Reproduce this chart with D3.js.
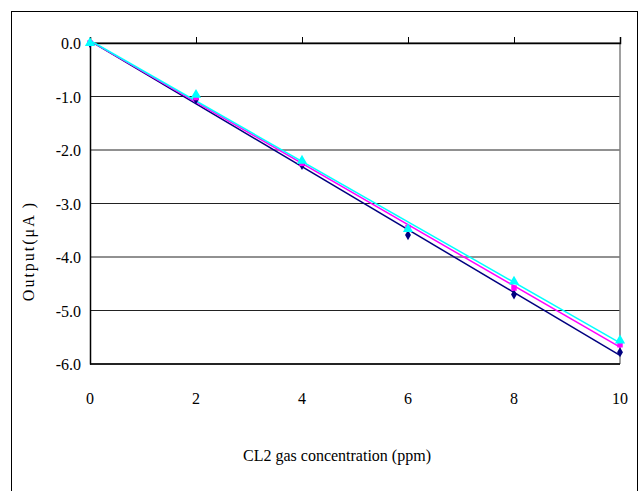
<!DOCTYPE html>
<html>
<head>
<meta charset="utf-8">
<script src="https://cdn.jsdelivr.net/npm/d3@7"></script>
<style>
body { margin: 0; background: #fff; }
svg text { font-family: "Liberation Serif", "DejaVu Serif", serif; fill: #000; }
</style>
</head>
<body>
<svg id="chart" width="640" height="491"></svg>
<script>
var concentration = [0, 2, 4, 6, 8, 10];
var sensorA = [0, -1.05, -2.28, -3.59, -4.70, -5.78];
var sensorB = [0, -1.02, -2.25, -3.45, -4.58, -5.64];
var sensorC = [0, -0.97, -2.20, -3.48, -4.46, -5.56];
var xTicks = [0, 2, 4, 6, 8, 10];
var yTicks = [0, -1, -2, -3, -4, -5, -6];

var series = [
	{name: "A", values: sensorA, color: "#000080", shape: d3.symbolDiamond},
	{name: "B", values: sensorB, color: "#ff00ff", shape: d3.symbolSquare},
	{name: "C", values: sensorC, color: "#00ffff", shape: d3.symbolTriangle}
];

var svg = d3.select('#chart'),
	margin = {top: 43, right: 20, bottom: 127, left: 90},
	width = +svg.attr("width") - margin.left - margin.right,
	height = +svg.attr("height") - margin.top - margin.bottom;

// outer frame
svg.append("rect")
	.attr("x", 11.5).attr("y", 11.5)
	.attr("width", 626).attr("height", 490)
	.attr("fill", "none").attr("stroke", "#000").attr("stroke-width", 1);

var chart = svg.append("g")
	.attr("transform", "translate(" + margin.left + "," + margin.top + ")");

var x = d3.scaleLinear().domain([0, 10]).range([0, width]);
var y = d3.scaleLinear().domain([-6, 0]).range([height, 0]);

// grid lines
chart.selectAll("line.grid")
	.data(yTicks)
	.enter().append("line")
	.attr("class", "grid")
	.attr("x1", 0).attr("x2", width)
	.attr("y1", function(d) { return y(d); })
	.attr("y2", function(d) { return y(d); })
	.attr("stroke", "#222").attr("stroke-width", 1);

// right border
chart.append("line")
	.attr("x1", width).attr("x2", width)
	.attr("y1", 0).attr("y2", height)
	.attr("stroke", "#808080").attr("stroke-width", 1.5);

// y axis
var yAxis = chart.append("g")
	.call(d3.axisLeft(y).tickValues(yTicks).tickSize(0).tickPadding(9));
yAxis.select(".domain").attr("stroke", "#000").attr("stroke-width", 1.5);
yAxis.selectAll("text").attr("font-size", 16).attr("font-family", null).attr("dy", "0.35em")
	.text(function(d) { return d3.format(".1f")(d).replace("\u2212", "-"); });

// x axis at y = 0, ticks pointing up
var xAxis = chart.append("g")
	.call(d3.axisTop(x).tickValues(xTicks).tickSize(6).tickFormat(""));
xAxis.select(".domain").attr("stroke", "#000").attr("stroke-width", 1.5);
xAxis.selectAll(".tick line").attr("stroke", "#000");

// x tick labels below plot
chart.selectAll("text.xlab")
	.data(xTicks)
	.enter().append("text")
	.attr("class", "xlab")
	.attr("x", function(d) { return x(d); })
	.attr("y", height + 40)
	.attr("text-anchor", "middle")
	.attr("font-size", 16)
	.text(function(d) { return d; });

// bottom line
chart.append("line")
	.attr("x1", 0).attr("x2", width)
	.attr("y1", height).attr("y2", height)
	.attr("stroke", "#000").attr("stroke-width", 1.5);

// trend lines (least squares)
function fit(vals) {
	var mx = d3.mean(concentration), my = d3.mean(vals);
	var sxy = d3.sum(concentration, function(c, i) { return (c - mx) * (vals[i] - my); });
	var sxx = d3.sum(concentration, function(c) { return (c - mx) * (c - mx); });
	var b = sxy / sxx;
	return {slope: b, intercept: my - b * mx};
}

series.forEach(function(s) {
	var f = fit(s.values);
	chart.append("line")
		.attr("x1", x(0)).attr("y1", y(f.intercept))
		.attr("x2", x(10)).attr("y2", y(f.intercept + f.slope * 10))
		.attr("stroke", s.color).attr("stroke-width", 1.5);
});

series.forEach(function(s) {
	chart.selectAll("path.pt-" + s.name)
		.data(s.values)
		.enter().append("path")
		.attr("class", "pt-" + s.name)
		.attr("transform", function(d, i) { return "translate(" + x(concentration[i]) + "," + y(d) + ")"; })
		.attr("d", d3.symbol().type(s.shape).size(s.shape === d3.symbolTriangle ? 45 : 30))
		.attr("fill", s.color);
});

// axis titles
svg.append("text")
	.attr("x", 337)
	.attr("y", 461)
	.attr("text-anchor", "middle")
	.attr("font-size", 16)
	.text("CL2 gas concentration (ppm)");

svg.append("text")
	.attr("transform", "translate(34,251) rotate(-90)")
	.attr("text-anchor", "middle")
	.attr("font-size", 16)
	.attr("letter-spacing", 2)
	.text("Output(\u03bcA )");
</script>
</body>
</html>
